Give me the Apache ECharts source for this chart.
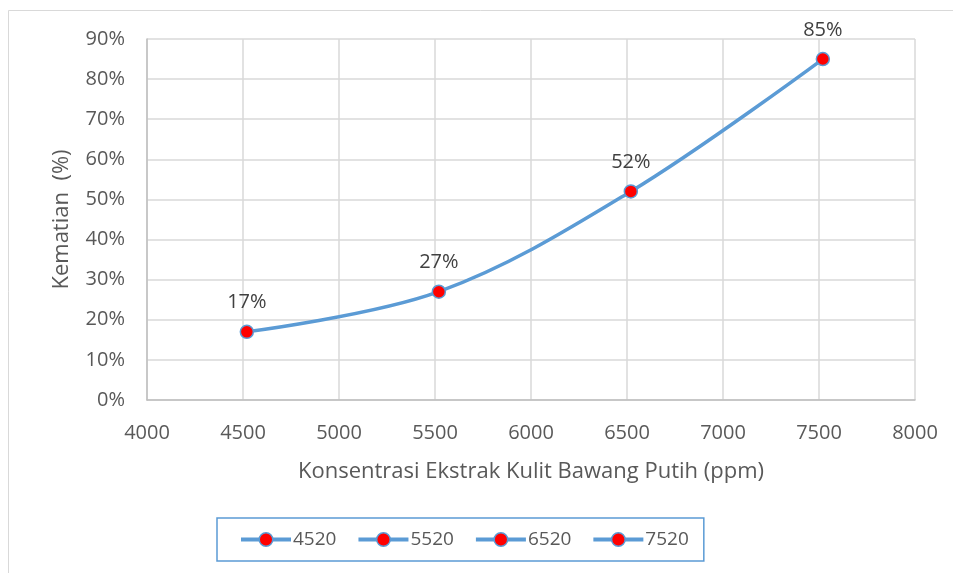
<!DOCTYPE html>
<html>
<head>
<meta charset="utf-8">
<script src="https://cdn.jsdelivr.net/npm/echarts@6/dist/echarts.min.js"></script>
<style>
  html, body { margin: 0; padding: 0; background: #fff; }
  #chart { width: 954px; height: 573px; }
</style>
</head>
<body>
<div id="chart"></div>
<script>
// Concentration of garlic-peel extract (ppm) and mortality (%)
const concentrations = [4520, 5520, 6520, 7520];
const mortality = [17, 27, 52, 85];
const legendNames = ['4520', '5520', '6520', '7520'];

const FONT = '"Open Sans", "Noto Sans", sans-serif';
const LINE_BLUE = '#5B9BD5';
const TEXT_GRAY = '#595959';

const chart = echarts.init(document.getElementById('chart'), null, { renderer: 'canvas' });

const markerStyle = { color: '#FF0000', borderColor: LINE_BLUE, borderWidth: 1.5 };

// Legend-only series (one per concentration), no marks of their own
const legendSeries = legendNames.map(n => ({
  name: n,
  type: 'line',
  data: [],
  symbol: 'circle',
  symbolSize: 12,
  lineStyle: { color: LINE_BLUE, width: 3.5 },
  itemStyle: markerStyle
}));

chart.setOption({
  animation: false,
  backgroundColor: '#fff',
  graphic: [
    { type: 'line', shape: { x1: 8.5, y1: 10.5, x2: 953, y2: 10.5 }, style: { stroke: '#D9D9D9', lineWidth: 1 } },
    { type: 'line', shape: { x1: 8.5, y1: 10.5, x2: 8.5, y2: 573 }, style: { stroke: '#D9D9D9', lineWidth: 1 } }
  ],
  grid: { left: 147, right: 39, top: 39, bottom: 173 },
  legend: {
    data: legendNames,
    left: 217,
    top: 518,
    padding: [12, 15, 12, 22],
    itemGap: 20,
    itemWidth: 50,
    itemHeight: 17,
    borderColor: LINE_BLUE,
    borderWidth: 1.5,
    lineStyle: { color: LINE_BLUE, width: 4 },
    itemStyle: { color: '#FF0000', borderColor: LINE_BLUE, borderWidth: 1.5 },
    textStyle: { fontFamily: FONT, fontSize: 19, color: TEXT_GRAY, padding: [0, 0, 0, -3] }
  },
  xAxis: {
    type: 'value',
    min: 4000,
    max: 8000,
    interval: 500,
    name: 'Konsentrasi Ekstrak Kulit Bawang Putih (ppm)',
    nameLocation: 'middle',
    nameGap: 61,
    nameTextStyle: { fontFamily: FONT, fontSize: 22, color: TEXT_GRAY },
    axisLine: { show: true, lineStyle: { color: '#BFBFBF', width: 1.5 } },
    axisTick: { show: false },
    axisLabel: { fontFamily: FONT, fontSize: 20, color: TEXT_GRAY, margin: 23, formatter: v => String(v) },
    splitLine: { show: true, lineStyle: { color: '#D9D9D9', width: 1.5 } }
  },
  yAxis: {
    type: 'value',
    min: 0,
    max: 90,
    interval: 10,
    name: 'Kematian  (%)',
    nameLocation: 'middle',
    nameRotate: 90,
    nameGap: 74,
    nameTextStyle: { fontFamily: FONT, fontSize: 22, color: TEXT_GRAY },
    axisLine: { show: true, lineStyle: { color: '#BFBFBF', width: 1.5 } },
    axisTick: { show: false },
    axisLabel: { fontFamily: FONT, fontSize: 20, color: TEXT_GRAY, margin: 22, formatter: v => v + '%' },
    splitLine: { show: true, lineStyle: { color: '#D9D9D9', width: 1.5 } }
  },
  series: [
    {
      name: 'Kematian',
      type: 'line',
      smooth: 0.35,
      data: concentrations.map((c, i) => [c, mortality[i]]),
      symbol: 'circle',
      symbolSize: 13,
      lineStyle: { color: LINE_BLUE, width: 3.5 },
      itemStyle: markerStyle,
      label: {
        show: true,
        position: 'top',
        distance: 12,
        fontFamily: FONT,
        fontSize: 20,
        color: '#404040',
        formatter: p => p.value[1] + '%'
      },
      z: 3
    },
    ...legendSeries
  ]
});
</script>
</body>
</html>
